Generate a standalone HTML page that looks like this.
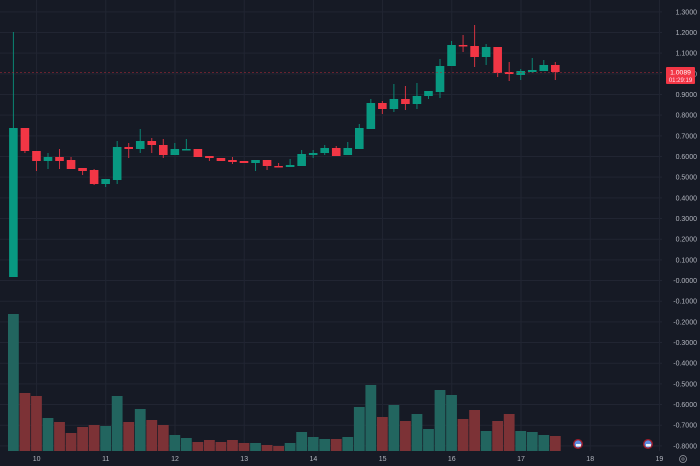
<!DOCTYPE html>
<html><head><meta charset="utf-8"><style>
html,body{margin:0;padding:0;background:#161a25;width:700px;height:466px;overflow:hidden}
svg{display:block}
text{font-family:"Liberation Sans",sans-serif;fill:#b2b5be}
</style></head><body>
<svg id="c" width="700" height="466" xmlns="http://www.w3.org/2000/svg">
<rect width="700" height="466" fill="#161a25"/>
<g id="grid"></g><g id="vol"></g><g id="cand"></g><g id="axis"></g>
<line x1="0" y1="72.5" x2="662" y2="72.5" stroke="#b02a38" stroke-width="0.8" stroke-dasharray="2,2" opacity="0.7"/>
<rect x="666" y="67" width="29" height="17" rx="1" fill="#f23645"/>
<text x="680.5" y="74.5" font-size="6.8" text-anchor="middle" style="fill:#fff">1.0089</text>
<text x="680.5" y="82" font-size="6" text-anchor="middle" style="fill:#fde">01:29:19</text>
<g>
<circle cx="578" cy="444" r="5" fill="#a01c2a"/><circle cx="578" cy="444" r="3.6" fill="#5b8de0"/><rect x="576" y="444" width="5" height="2.5" fill="#f2f2f2"/>
<circle cx="648" cy="444" r="5" fill="#a01c2a"/><circle cx="648" cy="444" r="3.6" fill="#5b8de0"/><rect x="646" y="444" width="5" height="2.5" fill="#f2f2f2"/>
<circle cx="683" cy="459" r="3.5" fill="none" stroke="#9598a1" stroke-width="0.8"/><circle cx="683" cy="459" r="1.2" fill="none" stroke="#9598a1" stroke-width="0.6"/>
</g>
</svg>
<script>
const NS="http://www.w3.org/2000/svg";
function el(p,t,a,txt){const e=document.createElementNS(NS,t);for(const k in a)e.setAttribute(k,a[k]);if(txt!==undefined)e.textContent=txt;document.getElementById(p).appendChild(e);}
const Y=v=>94.5+(0.9-v)*206.7;
for(let i=0;i<=21;i++){const v=1.3-i*0.1;const y=Y(v);
 el('grid','line',{x1:0,x2:662,y1:y,y2:y,stroke:'#212532','stroke-width':1});
 let s=v.toFixed(4); if(Math.abs(v)<1e-9)s='-0.0000';
 el('axis','text',{x:697,y:y+2.5,'font-size':7,'text-anchor':'end'},s);}
const days=[10,11,12,13,14,15,16,17,18,19];
days.forEach((d,i)=>{const x=36.6+i*69.2;
 el('grid','line',{x1:x,x2:x,y1:0,y2:451,stroke:'#212532','stroke-width':1});
 el('axis','text',{x:x,y:461,'font-size':7,'text-anchor':'middle'},String(d));});
const C=[[1,128,277,32,277],[0,128,151,128,153],[0,151,161,151,171],[1,157,161,153,169],[0,157,161,149,169],[0,160,169,157,169],[0,168,171,168,175],[0,170,184,169,185],[1,179,184,179,187],[1,147,180,141,184],
[0,147,149,143,158],[1,141,149,129,153],[0,141,145,138,153],[0,145,155,139,158],[1,149,155,143,155],[1,149,150,139,150],[0,149,157,149,157],[0,156,158,156,161],[0,158,161,158,161],[0,160,162,157,164],
[0,161,163,161,163],[1,160,163,160,171],[0,160,166,160,170],[0,166,167,163,167],[1,165,167,159,167],[1,154,166,150,166],[1,153,155,150,158],[1,148,153,145,155],[0,148,156,146,156],[1,148,155,142,155],
[1,128,149,124,149],[1,103,129,99,129],[0,103,109,101,114],[1,99,109,84,112],[0,99,104,86,110],[1,96,104,83,109],[1,91,96,91,99],[1,66,92,59,98],[1,45,66,41,66],[0,45,46,35,52],
[0,46,57,25,67],[1,47,57,44,65],[0,47,73,47,77],[0,72,74,62,81],[1,71,75,69,80],[1,70,72,58,73],[1,65,71,60,71],[0,65,72,62,80]];
const V=[314,393,396,418,422,433,427,425,426,396,422,409,420,425,435,438,442,440,442,440,443,443,445,446,443,432,437,439,439,437,407,385,417,405,421,414,429,390,395,419,410,431,421,414,431,432,435,436];
C.forEach((c,i)=>{const x=13.4+i*11.53;const up=c[0]==1;const col=up?'#089981':'#f23645';
 el('cand','line',{x1:x,x2:x,y1:c[3],y2:c[4],stroke:col,'stroke-width':1,opacity:0.85});
 el('cand','rect',{x:x-4.3,y:c[1],width:8.6,height:Math.max(1.5,c[2]-c[1]),fill:col});
 const vc=up?'#22655f':'#7c3236';
 el('vol','rect',{x:x-5.4,y:V[i],width:10.8,height:451-V[i],fill:vc});});
</script>
</body></html>
